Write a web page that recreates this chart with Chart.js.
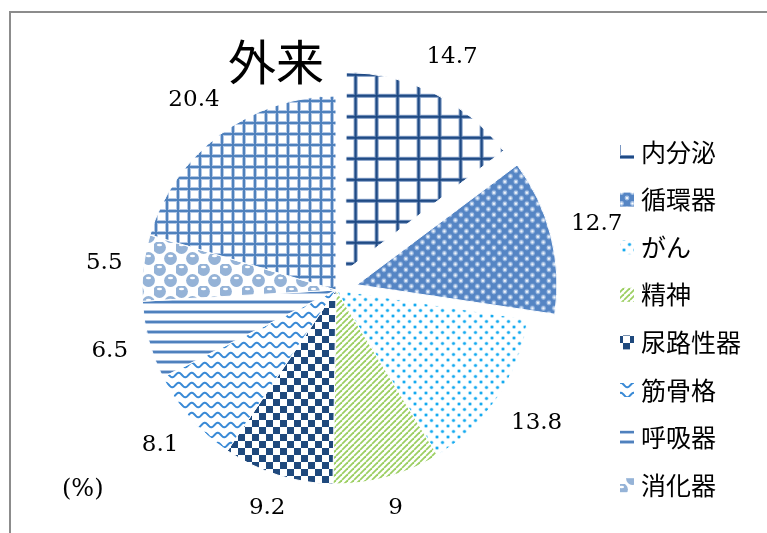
<!DOCTYPE html>
<html lang="ja">
<head>
<meta charset="utf-8">
<title>外来</title>
<script src="https://cdn.jsdelivr.net/npm/chart.js@4.4.1/dist/chart.umd.min.js"></script>
<style>
  html, body { margin: 0; padding: 0; background: #fff; overflow: hidden; }
  #marco { position: relative; width: 767px; height: 533px; }
  #borde { position: absolute; left: 9px; top: 11px; right: -20px; bottom: -20px;
           border-left: 2px solid #8c8c8c; border-top: 2px solid #8c8c8c; }
  #grafico { position: absolute; left: 0; top: 0; }
</style>
</head>
<body>
<div id="marco">
  <div id="borde"></div>
  <canvas id="grafico" width="767" height="533"></canvas>
</div>
<script>
// DATOS:

const categorias = ['内分泌', '循環器', 'がん', '精神', '尿路性器', '筋骨格', '呼吸器', '消化器', 'その他'];
const porcentajes = [14.7, 12.7, 13.8, 9, 9.2, 8.1, 6.5, 5.5, 20.4];
const categoriasLeyenda = ['内分泌', '循環器', 'がん', '精神', '尿路性器', '筋骨格', '呼吸器', '消化器'];
const titulo = '外来';
const unidad = '(%)';

const lienzo = document.getElementById('grafico');
const ctxPrincipal = lienzo.getContext('2d');

// TRAMAS:

function crearTrama(ancho, alto, dibujar) {
    const c = document.createElement('canvas');
    c.width = ancho;
    c.height = alto;
    const g = c.getContext('2d');
    g.fillStyle = '#ffffff';
    g.fillRect(0, 0, ancho, alto);
    dibujar(g, ancho, alto);
    return ctxPrincipal.createPattern(c, 'repeat');
}

function punto(g, x, y, r, color) {
    g.fillStyle = color;
    g.beginPath();
    g.arc(x, y, r, 0, Math.PI * 2);
    g.fill();
}

const tramas = [
    // 内分泌: cuadrícula gruesa azul marino
    crearTrama(21, 21, function(g) {
        g.fillStyle = '#7a97c2';
        g.fillRect(8, 0, 4, 21);
        g.fillRect(0, 8, 21, 4);
        g.fillStyle = '#1f4a84';
        g.fillRect(9, 0, 2, 21);
        g.fillRect(0, 9, 21, 2);
    }),
    // 循環器: rombos azules con puntos claros
    crearTrama(11, 11, function(g) {
        g.fillStyle = '#5585c4';
        g.fillRect(0, 0, 11, 11);
        [[0, 0], [11, 0], [0, 11], [11, 11], [5.5, 5.5]].forEach(function(p) {
            punto(g, p[0], p[1], 2.4, '#a9c3e6');
            punto(g, p[0], p[1], 1.1, '#ffffff');
        });
    }),
    // がん: puntos celestes
    crearTrama(11, 11, function(g) {
        [[2.5, 2.5], [8, 8]].forEach(function(p) {
            punto(g, p[0], p[1], 2.1, '#b3e3f9');
            punto(g, p[0], p[1], 1.3, '#14aaf0');
        });
    }),
    // 精神: diagonales verdes
    crearTrama(6, 6, function(g) {
        g.strokeStyle = '#9ccf62';
        g.lineWidth = 1.8;
        [-6, 0, 6].forEach(function(k) {
            g.beginPath();
            g.moveTo(k, 6);
            g.lineTo(k + 6, 0);
            g.stroke();
        });
    }),
    // 尿路性器: damero azul marino
    crearTrama(14, 14, function(g) {
        g.fillStyle = '#1f497d';
        g.fillRect(0, 0, 7, 7);
        g.fillRect(7, 7, 7, 7);
    }),
    // 筋骨格: ondas azules
    crearTrama(13, 10, function(g) {
        g.strokeStyle = '#3a8ad6';
        g.lineWidth = 2;
        g.beginPath();
        for (let x = -1; x <= 14; x += 0.5) {
            const y = 5 + 2.2 * Math.sin(2 * Math.PI * x / 13);
            if (x === -1) g.moveTo(x, y); else g.lineTo(x, y);
        }
        g.stroke();
    }),
    // 呼吸器: rayas horizontales
    crearTrama(10, 10, function(g) {
        g.fillStyle = '#aec5e4';
        g.fillRect(0, 0, 10, 4);
        g.fillStyle = '#4f81bd';
        g.fillRect(0, 1, 10, 2);
    }),
    // 消化器: burbujas celestes
    crearTrama(22, 22, function(g) {
        [[5.5, 5.5], [16.5, 16.5], [-5.5, 16.5], [16.5, -5.5]].forEach(function(p) {
            punto(g, p[0], p[1], 6.4, '#95b3d7');
            g.fillStyle = '#ffffff';
            g.beginPath();
            g.ellipse(p[0], p[1] - 2.5, 2.6, 1.2, 0, 0, Math.PI * 2);
            g.fill();
        });
    }),
    // その他: cuadrícula fina azul
    crearTrama(11, 11, function(g) {
        g.fillStyle = '#b3c8e6';
        g.fillRect(0, 0, 4, 11);
        g.fillRect(0, 0, 11, 4);
        g.fillStyle = '#4f81bd';
        g.fillRect(1, 0, 2, 11);
        g.fillRect(0, 1, 11, 2);
    })
];

// PLUGINS:

const etiquetasValor = {
    id: 'etiquetasValor',
    afterDatasetsDraw(chart) {
        const ctx = chart.ctx;
        const meta = chart.getDatasetMeta(0);
        ctx.save();
        ctx.font = '23px "DejaVu Serif"';
        ctx.fillStyle = '#000000';
        ctx.textAlign = 'center';
        ctx.textBaseline = 'middle';
        meta.data.forEach(function(arco, i) {
            const p = arco.getProps(['x', 'y', 'startAngle', 'endAngle', 'outerRadius', 'circumference'], true);
            const desplaz = (arco.options.offset || 0) / 4;
            const medio = (p.startAngle + p.endAngle) / 2;
            const cos = Math.cos(medio);
            const sin = Math.sin(medio);
            const extra = desplaz * (1 - Math.sin(Math.min(Math.PI, p.circumference)));
            const texto = String(chart.data.datasets[0].data[i]);
            const w = ctx.measureText(texto).width;
            const semi = Math.abs(cos) * w / 2 + Math.abs(sin) * 10;
            const r = desplaz + p.outerRadius + extra + 20 + semi;
            ctx.fillText(texto, p.x + cos * r, p.y + sin * r);
        });
        ctx.restore();
    }
};

const leyendaLateral = {
    id: 'leyendaLateral',
    afterDraw(chart) {
        const ctx = chart.ctx;
        const items = chart.options.plugins.legend.labels.generateLabels(chart).filter(function(item) {
            return categoriasLeyenda.includes(item.text);
        });
        ctx.save();
        ctx.font = '25px "Noto Sans CJK JP"';
        ctx.textAlign = 'left';
        ctx.textBaseline = 'middle';
        items.forEach(function(item, i) {
            const y = 152 + i * 47.6;
            ctx.fillStyle = item.fillStyle;
            ctx.fillRect(620, y - 7, 14, 14);
            ctx.fillStyle = '#000000';
            ctx.fillText(item.text, 641, y);
        });
        ctx.restore();
    }
};

const textosFijos = {
    id: 'textosFijos',
    afterDraw(chart) {
        const ctx = chart.ctx;
        ctx.save();
        ctx.fillStyle = '#000000';
        ctx.textBaseline = 'middle';
        ctx.textAlign = 'left';
        ctx.font = '48px "Noto Sans CJK JP"';
        ctx.fillText(titulo, 228, 62);
        ctx.font = '24px "DejaVu Serif"';
        ctx.fillText(unidad, 62, 490);
        ctx.restore();
    }
};

// GRÁFICO:

new Chart(ctxPrincipal, {
    type: 'pie',
    data: {
        labels: categorias,
        datasets: [{
            data: porcentajes,
            backgroundColor: tramas,
            borderColor: '#ffffff',
            borderWidth: 1,
            offset: function(c) {
                return c.dataIndex < 2 ? 86 : 0;
            }
        }]
    },
    options: {
        responsive: false,
        animation: false,
        events: [],
        radius: 194,
        layout: {
            padding: { left: 0, right: 95, top: 47, bottom: 0 }
        },
        plugins: {
            legend: { display: false },
            tooltip: { enabled: false },
            title: { display: false }
        }
    },
    plugins: [etiquetasValor, leyendaLateral, textosFijos]
});
</script>
</body>
</html>
